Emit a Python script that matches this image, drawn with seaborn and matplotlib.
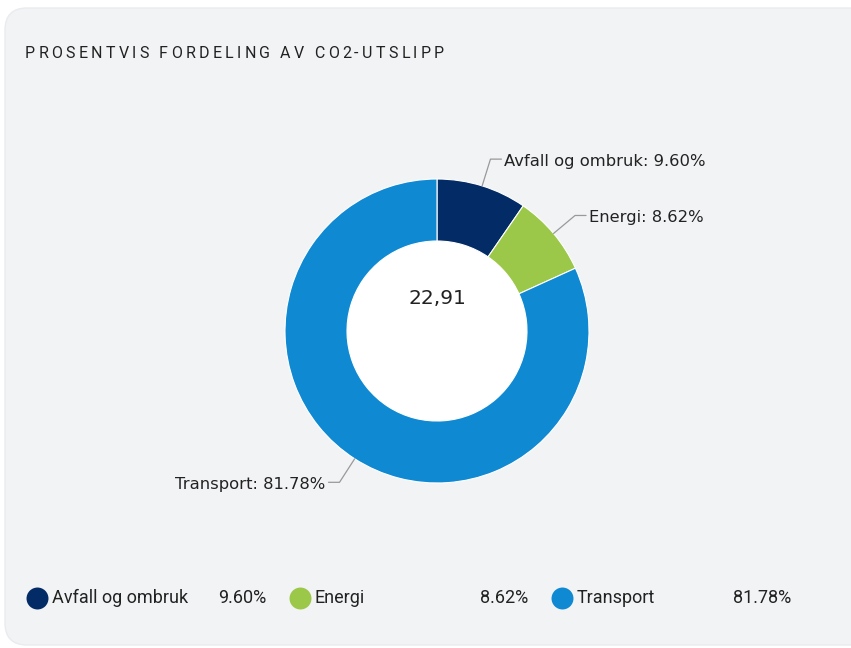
import numpy as np
import matplotlib
matplotlib.use("Agg")
import matplotlib.pyplot as plt
import seaborn as sns
from matplotlib.patches import FancyBboxPatch

kategorier = ["Avfall og ombruk", "Energi", "Transport"]
andeler = [9.60, 8.62, 81.78]
farger = ["#032B66", "#9BC848", "#1089D3"]
tittel = "PROSENTVIS FORDELING AV CO2-UTSLIPP"
senter_tekst = "22,91"

sns.set_theme(style="white")
plt.rcParams["font.family"] = ["DejaVu Sans"]

W, H = 851, 648
fig = plt.figure(figsize=(W / 100, H / 100), dpi=100)
ax = fig.add_axes([0, 0, 1, 1])
ax.set_xlim(0, W)
ax.set_ylim(0, H)
ax.set_aspect("equal")
ax.axis("off")
fig.patch.set_facecolor("white")

def py(y):
    return H - y

# panel bakgrunn
ax.add_patch(FancyBboxPatch((5, py(645)), 900, 637, boxstyle="round,pad=0,rounding_size=22",
                            facecolor="#F2F3F5", edgecolor="#E9EBEE", linewidth=1, zorder=0))

# tittel med bokstavavstand
renderer = fig.canvas.get_renderer()
x = 25
for ch in tittel:
    t = ax.text(x, py(53), ch, fontsize=11.5, family="Roboto", color="#222222",
                ha="left", va="center", zorder=3)
    bredde = t.get_window_extent(renderer).width
    if ch == " ":
        bredde = 3.5
    x += bredde + 3.3

cx, cy, r_ut, r_inn = 437, py(331), 152, 90
ax.add_patch(plt.Circle((cx, cy), r_inn, color="white", zorder=1))
wedges, _ = ax.pie(andeler, colors=farger, startangle=90, counterclock=False,
                   center=(cx, cy), radius=r_ut,
                   wedgeprops=dict(width=r_ut - r_inn, edgecolor="white", linewidth=0.8))
for w in wedges:
    w.set_zorder(2)
ax.set_xlim(0, W)
ax.set_ylim(0, H)
ax.set_aspect("equal")

ax.text(cx, py(298), senter_tekst, fontsize=14.5, family="DejaVu Sans",
        ha="center", va="center", color="#222222", zorder=3)

# etiketter med linjer
for w, k, a in zip(wedges, kategorier, andeler):
    vinkel = np.deg2rad((w.theta1 + w.theta2) / 2)
    x0, y0 = cx + r_ut * np.cos(vinkel), cy + r_ut * np.sin(vinkel)
    x1, y1 = cx + 180 * np.cos(vinkel), cy + 180 * np.sin(vinkel)
    retning = 1 if np.cos(vinkel) >= 0 else -1
    x2 = x1 + 11 * retning
    ax.plot([x0, x1, x2], [y0, y1, y1], color="#999999", linewidth=0.9, zorder=3)
    ax.text(x2 + 3 * retning, y1 - 2.5, f"{k}: {a:.2f}%", fontsize=11.8, family="DejaVu Sans",
            color="#222222", ha="left" if retning > 0 else "right", va="center", zorder=3)

# forklaring
for i, (k, a, f) in enumerate(zip(kategorier, andeler, farger)):
    x = 37 + i * 262.5
    ax.scatter([x], [py(598)], s=250, color=f, zorder=3, linewidths=0)
    ax.text(x + 15, py(598), k, fontsize=13, family="Roboto", color="#222222",
            ha="left", va="center", zorder=3)
    ax.text(x + 229, py(598), f"{a:.2f}%", fontsize=13, family="Roboto", color="#222222",
            ha="right", va="center", zorder=3)

fig.savefig("out.png", dpi=100, facecolor="white")
